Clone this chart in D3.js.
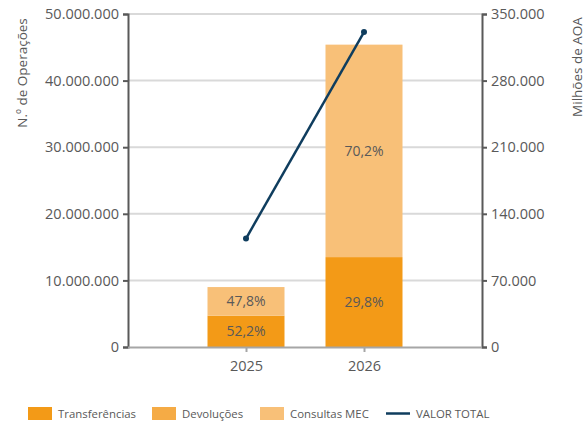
<!DOCTYPE html>
<html><head><meta charset="utf-8">
<script src="https://cdn.jsdelivr.net/npm/d3@7/dist/d3.min.js"></script>
<style>body{margin:0;background:#fff;} text{font-family:"Open Sans",sans-serif;}</style>
</head><body><svg id="c" width="587" height="424"></svg>
<script>
const categories = ["2025", "2026"];
const transferencias = [4700000, 13500000];
const devolucoes = [0, 0];
const consultasMEC = [4300000, 31900000];
const valorTotal = [114000, 331000];
const pctTransf = ["52,2%", "29,8%"];
const pctConsultas = ["47,8%", "70,2%"];
const leftTicks = [0, 10000000, 20000000, 30000000, 40000000, 50000000];
const rightTicks = [0, 70000, 140000, 210000, 280000, 350000];
const seriesNames = ["Transferências", "Devoluções", "Consultas MEC", "VALOR TOTAL"];
const colors = ["#f39a17", "#f5ab45", "#f8c078", "#0f3d5e"];

const svg = d3.select("#c");
const L = 128, R = 482, T = 14, B = 347;
const x = d3.scalePoint().domain(categories).range([L, R]).padding(1);
const yL = d3.scaleLinear().domain([0, 50000000]).range([B, T]);
const yR = d3.scaleLinear().domain([0, 350000]).range([B, T]);
const fmt = d => d3.format(",")(d).replace(/,/g, ".");
const bw = 77;
const txt = "#595959";

// gridlines
svg.append("g").selectAll("line").data(leftTicks.slice(1)).join("line")
  .attr("x1", L).attr("x2", R).attr("y1", d => yL(d)).attr("y2", d => yL(d))
  .attr("stroke", "#d9d9d9").attr("stroke-width", 2);

// stacked bars
const stackData = categories.map((c, i) => ({cat: c, t: transferencias[i], d: devolucoes[i], m: consultasMEC[i]}));
const stack = d3.stack().keys(["t", "d", "m"])(stackData);
svg.append("g").selectAll("g").data(stack).join("g").attr("fill", (d, i) => colors[i])
  .selectAll("rect").data(d => d).join("rect")
  .attr("x", d => x(d.data.cat) - bw / 2).attr("width", bw)
  .attr("y", d => yL(d[1])).attr("height", d => yL(d[0]) - yL(d[1]));

// labels
const lab = svg.append("g").attr("font-size", 14).attr("fill", txt).attr("text-anchor", "middle");
categories.forEach((c, i) => {
  lab.append("text").attr("x", x(c)).attr("y", yL(transferencias[i] / 2)).attr("dy", "0.35em").text(pctTransf[i]);
  const base = transferencias[i] + devolucoes[i];
  lab.append("text").attr("x", x(c)).attr("y", yL(base + consultasMEC[i] / 2)).attr("dy", "0.35em").text(pctConsultas[i]);
});

// axes
const axL = svg.append("g").attr("transform", `translate(${L},0)`)
  .call(d3.axisLeft(yL).tickValues(leftTicks).tickFormat(fmt).tickSize(5).tickPadding(4));
const axR = svg.append("g").attr("transform", `translate(${R},0)`)
  .call(d3.axisRight(yR).tickValues(rightTicks).tickFormat(fmt).tickSize(5).tickPadding(4));
const axB = svg.append("g").attr("transform", `translate(0,${B})`)
  .call(d3.axisBottom(x).tickSize(5).tickPadding(9));
axB.select(".domain").attr("d", `M${L},0.5H${R}`);
[axL, axR].forEach(a => {
  a.select(".domain").attr("stroke", "#595959").attr("stroke-width", 2);
  a.selectAll(".tick line").attr("stroke", "#595959").attr("stroke-width", 2);
});
axB.select(".domain").attr("stroke", "#a6a6a6").attr("stroke-width", 2);
axB.selectAll(".tick line").attr("stroke", "#a6a6a6").attr("stroke-width", 2);
svg.selectAll(".tick text").attr("fill", txt).attr("font-size", 14.5).attr("font-family", "Open Sans");

// line
const lineG = svg.append("g");
const pts = categories.map((c, i) => [x(c), yR(valorTotal[i])]);
lineG.append("path").attr("d", d3.line()(pts)).attr("fill", "none").attr("stroke", colors[3]).attr("stroke-width", 2.5);
lineG.selectAll("circle").data(pts).join("circle").attr("cx", d => d[0]).attr("cy", d => d[1]).attr("r", 3).attr("fill", colors[3]);

// axis titles
svg.append("text").attr("transform", "translate(27,73) rotate(-90)").attr("text-anchor", "middle")
  .attr("font-size", 13.5).attr("fill", txt).text("N.º de Operações");
svg.append("text").attr("transform", "translate(582,67) rotate(-90)").attr("text-anchor", "middle")
  .attr("font-size", 13.5).attr("fill", txt).text("Milhões de AOA");

// legend
const legX = [28, 152, 260, 386];
const leg = svg.append("g");
seriesNames.forEach((n, i) => {
  const g = leg.append("g").attr("transform", `translate(${legX[i]},407)`);
  if (i < 3) g.append("rect").attr("width", 24).attr("height", 13).attr("fill", colors[i]);
  else g.append("line").attr("x1", 0).attr("x2", 24).attr("y1", 6.5).attr("y2", 6.5).attr("stroke", colors[3]).attr("stroke-width", 2.5);
  g.append("text").attr("x", 30).attr("y", 6.5).attr("dy", "0.35em").attr("font-size", 11.4).attr("fill", txt).text(n);
});
</script></body></html>
